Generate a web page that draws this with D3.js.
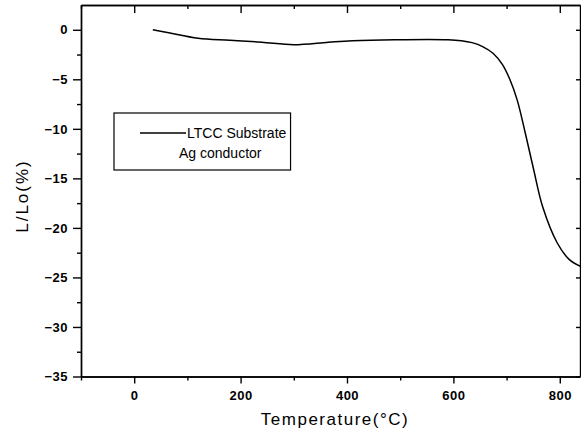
<!DOCTYPE html>
<html>
<head>
<meta charset="utf-8">
<script src="https://cdn.jsdelivr.net/npm/d3@7"></script>
<style>
  body { margin: 0; background: #fff; }
  svg { display: block; font-family: Arial, "Liberation Sans", sans-serif; }
  .axis path, .axis line { stroke: #000; stroke-width: 1.4; }
  .axis text { fill: #000; font-size: 13px; font-weight: bold; letter-spacing: 0.5px; }
</style>
</head>
<body>
<script>
// shrinkage curve
const temps  = [35, 65, 120, 180, 240, 300, 365, 410, 490, 590, 615, 635, 655, 675, 692, 706, 720, 735, 750, 768, 795, 818, 840];
const shrink = [0, -0.3, -0.85, -1.05, -1.25, -1.5, -1.25, -1.1, -1.0, -1.0, -1.1, -1.3, -1.7, -2.4, -3.5, -5.0, -7.1, -10.4, -13.9, -17.9, -21.5, -23.2, -23.9];

const xTicks = [0, 200, 400, 600, 800];
const xMinor = [-100, 100, 300, 500, 700];
const yTicks = [0, -5, -10, -15, -20, -25, -30, -35];
const yMinor = [-2.5, -7.5, -12.5, -17.5, -22.5, -27.5, -32.5];

const legendLabels = ["LTCC Substrate", "Ag conductor"];
const xTitle = "Temperature(°C)";
const yTitle = "L/Lo(%)";

const width = 581;
const height = 437;
const mLeft = 81, mRight = 580, mTop = 5, mBottom = 376.5;

const svg = d3.select("body").append("svg").attr("width", width).attr("height", height);

const x = d3.scaleLinear().domain([-100, 838]).range([mLeft, mRight]);
const y = d3.scaleLinear().domain([-35, 2.5]).range([mBottom, mTop]);

// bottom axis: labelled majors + short minors
svg.append("g").attr("class", "axis")
  .attr("transform", `translate(0,${mBottom})`)
  .call(d3.axisBottom(x).tickValues(xTicks).tickSize(7).tickPadding(7).tickSizeOuter(0));
svg.append("g").attr("class", "axis")
  .attr("transform", `translate(0,${mBottom})`)
  .call(d3.axisBottom(x).tickValues(xMinor).tickSize(4).tickFormat("").tickSizeOuter(0));

// left axis
svg.append("g").attr("class", "axis")
  .attr("transform", `translate(${mLeft},0)`)
  .call(d3.axisLeft(y).tickValues(yTicks).tickSize(8).tickPadding(5).tickSizeOuter(0));
svg.append("g").attr("class", "axis")
  .attr("transform", `translate(${mLeft},0)`)
  .call(d3.axisLeft(y).tickValues(yMinor).tickSize(4).tickFormat("").tickSizeOuter(0));

// top axis, ticks pointing in
svg.append("g").attr("class", "axis")
  .attr("transform", `translate(0,${mTop})`)
  .call(d3.axisTop(x).tickValues(xTicks).tickSize(-8).tickFormat("").tickSizeOuter(0));
svg.append("g").attr("class", "axis")
  .attr("transform", `translate(0,${mTop})`)
  .call(d3.axisTop(x).tickValues(xMinor).tickSize(-4).tickFormat("").tickSizeOuter(0));

// right axis, ticks pointing in
svg.append("g").attr("class", "axis")
  .attr("transform", `translate(${mRight},0)`)
  .call(d3.axisRight(y).tickValues(yTicks).tickSize(-4).tickFormat("").tickSizeOuter(0));

// the curve
const line = d3.line()
  .x((d, i) => x(temps[i]))
  .y(d => y(d))
  .curve(d3.curveCatmullRom.alpha(0.5));

svg.append("path")
  .datum(shrink)
  .attr("fill", "none")
  .attr("stroke", "#000")
  .attr("stroke-width", 1.5)
  .attr("d", line);

// legend
const lg = svg.append("g");
const box = lg.append("rect")
  .attr("x", 114).attr("y", 113).attr("height", 57)
  .attr("fill", "#fff").attr("stroke", "#000").attr("stroke-width", 1.2);
lg.append("line")
  .attr("x1", 140).attr("x2", 186).attr("y1", 133).attr("y2", 133)
  .attr("stroke", "#000").attr("stroke-width", 1.3);
const t1 = lg.append("text").attr("x", 187).attr("y", 138).text(legendLabels[0]);
const t2 = lg.append("text").attr("x", 179).attr("y", 158).text(legendLabels[1]);
lg.selectAll("text").attr("font-size", 14);
const rEnd = Math.max(t1.node().getBBox().x + t1.node().getBBox().width,
                      t2.node().getBBox().x + t2.node().getBBox().width);
box.attr("width", rEnd + 4 - 114);

// axis titles
svg.append("text")
  .attr("x", 335).attr("y", 425)
  .attr("text-anchor", "middle")
  .attr("font-size", 17).attr("letter-spacing", "1.5px")
  .text(xTitle);

svg.append("text")
  .attr("transform", "translate(28,196) rotate(-90)")
  .attr("text-anchor", "middle")
  .attr("font-size", 17).attr("letter-spacing", "2px")
  .text(yTitle);
</script>
</body>
</html>
